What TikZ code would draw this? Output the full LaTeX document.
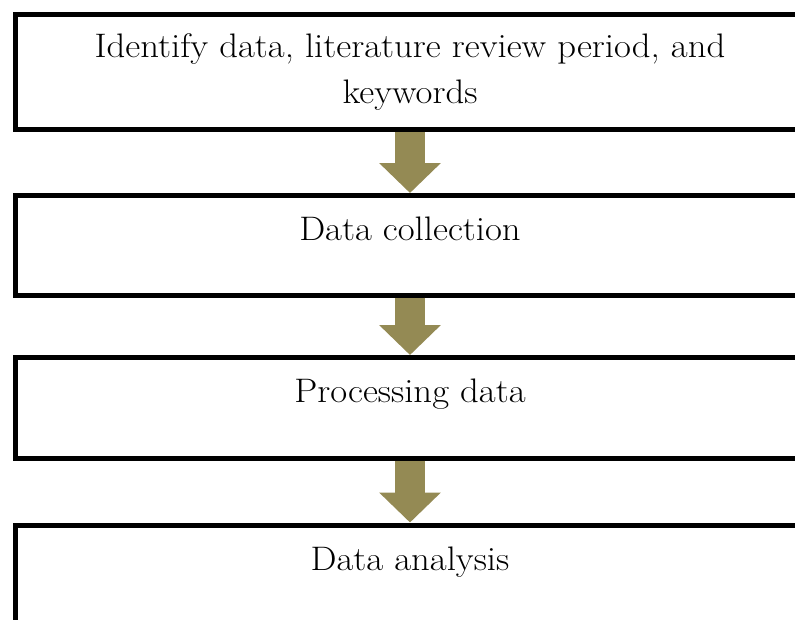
\documentclass[tikz,border=0pt]{standalone}
\usepackage{fontspec}
\setmainfont{Latin Modern Roman}[FakeStretch=1.08]
\usetikzlibrary{positioning,arrows.meta}
\definecolor{olivearrow}{RGB}{148,138,84}

\begin{document}
\begin{tikzpicture}[x=1pt,y=1pt]
	\tikzstyle{stage}=[rectangle, draw=black, line width=5pt, minimum width=790pt]
	\tikzstyle{caption}=[inner sep=0pt, align=center, font=\fontsize{34}{46}\selectfont]
	\tikzstyle{flow}=[line width=30pt, draw=olivearrow, -{Triangle[width=60pt,length=30pt]}]
	\useasboundingbox (0,0) rectangle (795,-619);
	\node[stage, minimum height=115pt] (collectplan) at (410,-72) { };
	\node[stage, minimum height=99.5pt] (collect) [below=61pt of collectplan] { };
	\node[stage, minimum height=100.5pt] (process) [below=57.5pt of collect] { };
	\node[stage, minimum height=130pt] (analysis) [below=62pt of process] { };
	\node[caption] (collectplantext) [below=21pt of collectplan.north] {Identify data, literature review period, and\\keywords};
	\node[caption] (collecttext) [below=24pt of collect.north] {Data collection};
	\node[caption] (processtext) [below=24pt of process.north] {Processing data};
	\node[caption] (analysistext) [below=24pt of analysis.north] {Data analysis};
	\path (collectplan) edge [flow] (collect)
	(collect) edge [flow] (process)
	(process) edge [flow] (analysis);
\end{tikzpicture}
\end{document}
